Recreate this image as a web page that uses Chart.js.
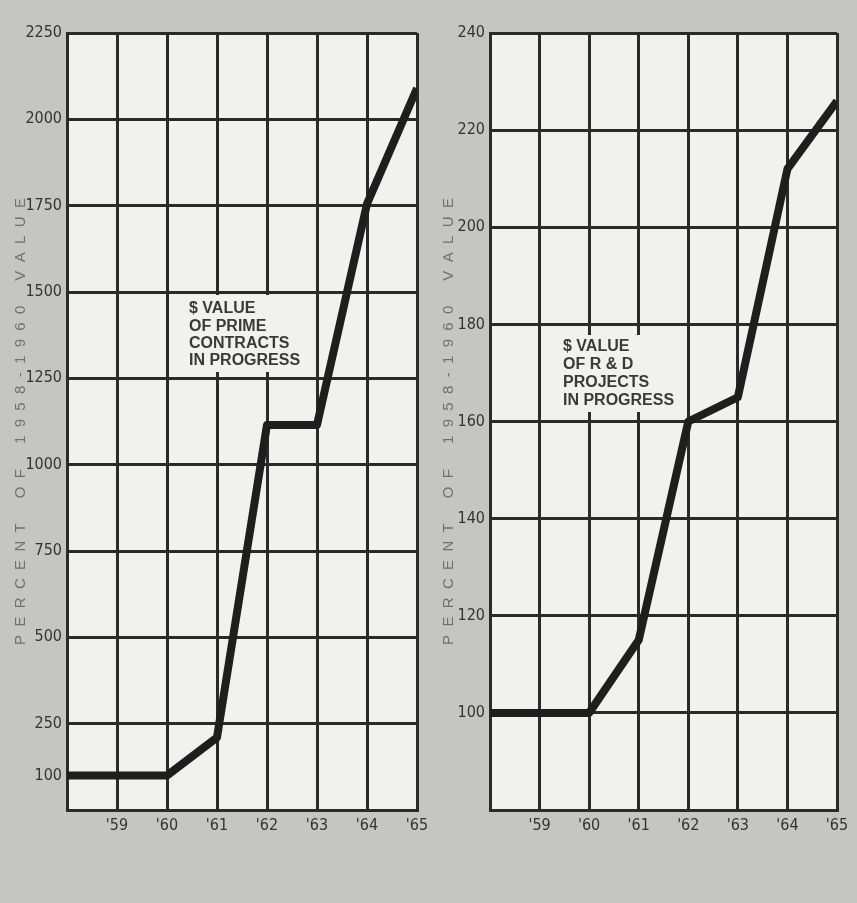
<!DOCTYPE html>
<html>
<head>
<meta charset="utf-8">
<script src="https://cdn.jsdelivr.net/npm/chart.js@4/dist/chart.umd.min.js"></script>
<style>
  html, body { margin: 0; padding: 0; background: #c5c5c3; }
  .wrap { display: flex; width: 857px; height: 903px; }
  .box { position: relative; height: 903px; }
</style>
</head>
<body>
<div class="wrap">
  <div class="box" style="width:428px"><canvas id="primeChart"></canvas></div>
  <div class="box" style="width:429px"><canvas id="rdChart"></canvas></div>
</div>
<script>
const years = [1958, 1959, 1960, 1961, 1962, 1963, 1964, 1965];
const primeContracts = [100, 100, 100, 210, 1115, 1115, 1755, 2090];
const rdProjects = [100, 100, 100, 115, 160, 165, 212, 226];
const primeTicks = [100, 250, 500, 750, 1000, 1250, 1500, 1750, 2000, 2250];
const primeNote = ['$ VALUE', 'OF PRIME', 'CONTRACTS', 'IN PROGRESS'];
const rdNote = ['$ VALUE', 'OF R & D', 'PROJECTS', 'IN PROGRESS'];
const axisTitle = 'P  E  R  C  E  N  T      O  F      1  9  5  8  -  1  9  6  0      V  A  L  U  E';

const INK = '#2a2a2a';
const tickFont = { family: '"Liberation Sans Narrow", "DejaVu Sans Condensed", sans-serif', size: 16 };

// plot area paper + the white label box over the grid
const paperPlugin = {
    id: 'paper',
    beforeDraw(chart) {
        const a = chart.chartArea, ctx = chart.ctx;
        ctx.save();
        ctx.fillStyle = '#f1f1ef';
        ctx.fillRect(a.left, a.top, a.right - a.left, a.bottom - a.top);
        ctx.restore();
    },
    beforeDatasetsDraw(chart, args, opts) {
        const a = chart.chartArea, ctx = chart.ctx;
        ctx.save();
        ctx.fillStyle = '#f1f1ef';
        ctx.fillRect(a.left + opts.box[0], opts.box[1], opts.box[2], opts.box[3]);
        ctx.fillStyle = '#3a3a3a';
        ctx.font = 'bold 16px "Liberation Sans", Arial, sans-serif';
        ctx.textBaseline = 'middle';
        opts.lines.forEach((t, i) => {
            ctx.fillText(t, a.left + opts.textX, opts.textY + i * opts.lineGap);
        });
        ctx.restore();
    }
};

function makeChart(id, values, yOpts, yWidth, padRight, note) {
    const ctx = document.getElementById(id).getContext('2d');
    return new Chart(ctx, {
        type: 'line',
        data: {
            datasets: [{
                data: years.map((y, i) => ({ x: y, y: values[i] })),
                borderColor: '#1e1e1e',
                borderWidth: 8,
                borderJoinStyle: 'round',
                pointRadius: 0,
                tension: 0,
                fill: false
            }]
        },
        options: {
            responsive: true,
            maintainAspectRatio: false,
            animation: false,
            layout: { padding: { top: 33, right: padRight, left: 0, bottom: 0 } },
            plugins: {
                legend: { display: false },
                tooltip: { enabled: false },
                paper: note
            },
            scales: {
                x: {
                    type: 'linear',
                    min: 1958,
                    max: 1965,
                    ticks: {
                        stepSize: 1,
                        color: '#333',
                        font: tickFont,
                        padding: 6,
                        maxRotation: 0,
                        callback: v => v === 1958 ? '' : "'" + String(v).slice(2)
                    },
                    grid: { color: INK, lineWidth: 3, drawTicks: false },
                    border: { color: INK, width: 3 },
                    afterFit: s => { s.height = 93; s.paddingRight = 0; s.paddingLeft = 0; }
                },
                y: Object.assign({
                    title: {
                        display: true,
                        text: axisTitle,
                        color: '#707070',
                        font: { family: '"Liberation Sans", Arial, sans-serif', size: 15 },
                        padding: { top: 12, bottom: 0 }
                    },
                    border: { color: INK, width: 3 },
                    afterFit: s => { s.width = yWidth; }
                }, yOpts)
            }
        },
        plugins: [paperPlugin]
    });
}

makeChart('primeChart', primeContracts, {
    min: 0,
    max: 2250,
    afterBuildTicks: s => { s.ticks = primeTicks.map(v => ({ value: v })); },
    ticks: { color: '#333', font: tickFont, padding: 5, callback: v => String(v) },
    grid: {
        color: c => c.tick && c.tick.value === 100 ? 'rgba(0,0,0,0)' : INK,
        lineWidth: 3,
        drawTicks: false
    }
}, 67, 11, {
    box: [117, 295, 126, 77],
    lines: primeNote,
    textX: 122,
    textY: 309,
    lineGap: 17.3
});

makeChart('rdChart', rdProjects, {
    min: 80,
    max: 240,
    ticks: {
        stepSize: 20,
        color: '#333',
        font: tickFont,
        padding: 5,
        callback: v => v === 80 ? '' : String(v)
    },
    grid: { color: INK, lineWidth: 3, drawTicks: false }
}, 62, 20, {
    box: [68, 335, 124, 77],
    lines: rdNote,
    textX: 73,
    textY: 347,
    lineGap: 18
});
</script>
</body>
</html>
